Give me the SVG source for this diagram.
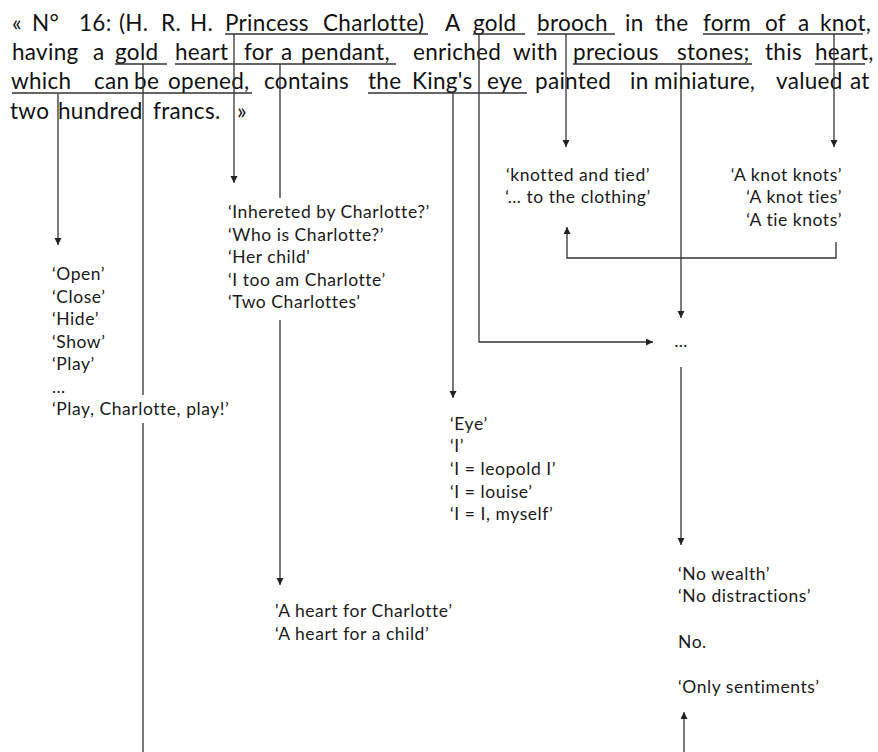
<svg xmlns="http://www.w3.org/2000/svg" width="878" height="752" viewBox="0 0 878 752">
<style>
.t{font-family:"Lato","Liberation Sans",sans-serif;font-size:22.5px;letter-spacing:0.3px;fill:#111}
.l{font-family:"Lato","Liberation Sans",sans-serif;font-size:17.5px;letter-spacing:0.55px;fill:#1a1a1a}
.u{stroke:#333;stroke-width:1.3;fill:none}
.c{stroke:#333;stroke-width:1.3;fill:none}
.a{marker-end:url(#ah)}
</style>
<defs>
<marker id="ah" markerUnits="userSpaceOnUse" markerWidth="8" markerHeight="8" refX="7" refY="3.5" orient="auto">
<path d="M0,0 L7,3.5 L0,7 z" fill="#222"/>
</marker>
</defs>
<rect width="878" height="752" fill="#fff"/>

<g id="paragraph">
<text class="t" y="31"><tspan x="12">«</tspan><tspan x="32">N°</tspan><tspan x="79">16:</tspan><tspan x="119">(H.</tspan><tspan x="161">R.</tspan><tspan x="190">H.</tspan><tspan x="225">Princess</tspan><tspan x="323">Charlotte)</tspan><tspan x="445">A</tspan><tspan x="473">gold</tspan><tspan x="537">brooch</tspan><tspan x="625">in</tspan><tspan x="655">the</tspan><tspan x="703">form</tspan><tspan x="765">of</tspan><tspan x="798">a</tspan><tspan x="820">knot,</tspan></text>
<text class="t" y="60"><tspan x="12">having</tspan><tspan x="93">a</tspan><tspan x="115">gold</tspan><tspan x="175">heart</tspan><tspan x="244">for</tspan><tspan x="281">a</tspan><tspan x="301">pendant,</tspan><tspan x="413">enriched</tspan><tspan x="513">with</tspan><tspan x="573">precious</tspan><tspan x="677">stones;</tspan><tspan x="765">this</tspan><tspan x="815">heart,</tspan></text>
<text class="t" y="89"><tspan x="11">which</tspan><tspan x="94">can</tspan><tspan x="134">be</tspan><tspan x="168">opened,</tspan><tspan x="264">contains</tspan><tspan x="368">the</tspan><tspan x="412">King's</tspan><tspan x="487">eye</tspan><tspan x="535">painted</tspan><tspan x="630">in</tspan><tspan x="654">miniature,</tspan><tspan x="776">valued</tspan><tspan x="850">at</tspan></text>
<text class="t" y="119"><tspan x="10">two</tspan><tspan x="58">hundred</tspan><tspan x="153">francs.</tspan><tspan x="237">»</tspan></text>
<path class="u" d="M225,34H428M473,34H525M537,34H615M703,34H863M115,64H167M175,64H396M573,64H752M815,64H865M12,93H252M368,93H527"/>
</g>

<g id="connectors">
<path class="c a" d="M58,94V245"/>
<path class="c" d="M143,64V395M143,423V752"/>
<path class="c a" d="M234,34V183"/>
<path class="c" d="M280,64V198"/>
<path class="c a" d="M280,320V585"/>
<path class="c a" d="M453,93V398"/>
<path class="c a" d="M479,34V342H653"/>
<path class="c a" d="M566,34V147"/>
<path class="c a" d="M681,64V318"/>
<path class="c a" d="M834,34V147"/>
<path class="c a" d="M836,242V258H567V227"/>
<path class="c a" d="M681,367V545"/>
<path class="c a" d="M684,752V712"/>
</g>

<g id="node-open">
<text class="l"><tspan x="52" y="280">‘Open’</tspan><tspan x="52" y="303">‘Close’</tspan><tspan x="52" y="325">‘Hide’</tspan><tspan x="52" y="348">‘Show’</tspan><tspan x="52" y="370">‘Play’</tspan><tspan x="52" y="393">…</tspan><tspan x="52" y="415">‘Play, Charlotte, play!’</tspan></text>
</g>
<g id="node-charlotte">
<text class="l"><tspan x="228" y="218">‘Inhereted by Charlotte?’</tspan><tspan x="228" y="241">‘Who is Charlotte?’</tspan><tspan x="228" y="263">‘Her child'</tspan><tspan x="228" y="286">‘I too am Charlotte’</tspan><tspan x="228" y="308">‘Two Charlottes'</tspan></text>
</g>
<g id="node-knotted">
<text class="l" text-anchor="middle"><tspan x="578" y="181">‘knotted and tied’</tspan><tspan x="578" y="203">‘… to the clothing’</tspan></text>
</g>
<g id="node-knots">
<text class="l" text-anchor="end"><tspan x="842" y="181">‘A knot knots’</tspan><tspan x="842" y="203">‘A knot ties’</tspan><tspan x="842" y="226">‘A tie knots’</tspan></text>
</g>
<g id="node-ellipsis">
<text class="l" x="681" y="347" text-anchor="middle">…</text>
</g>
<g id="node-eye">
<text class="l"><tspan x="450" y="430">‘Eye’</tspan><tspan x="450" y="452">‘I’</tspan><tspan x="450" y="475">‘I = leopold I’</tspan><tspan x="450" y="498">‘I = louise’</tspan><tspan x="450" y="520">‘I = I, myself’</tspan></text>
</g>
<g id="node-heart">
<text class="l"><tspan x="275" y="617">'A heart for Charlotte’</tspan><tspan x="275" y="640">‘A heart for a child’</tspan></text>
</g>
<g id="node-wealth">
<text class="l"><tspan x="678" y="580">‘No wealth’</tspan><tspan x="678" y="602">‘No distractions’</tspan><tspan x="678" y="648">No.</tspan><tspan x="678" y="693">‘Only sentiments’</tspan></text>
</g>
</svg>
